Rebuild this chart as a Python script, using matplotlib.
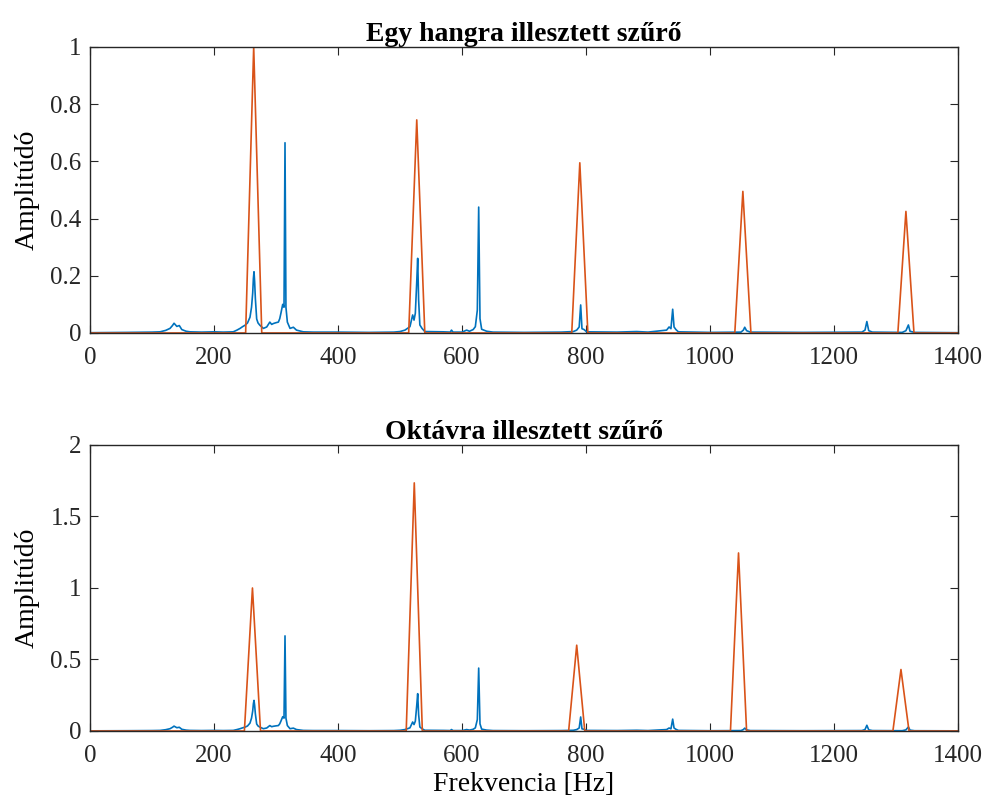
import matplotlib
matplotlib.use("Agg")
import matplotlib.pyplot as plt
import numpy as np
from matplotlib.ticker import FuncFormatter

# measured spectrum (Hz, amplitude), same in both panels
spec_freq = [0, 60, 100, 113, 122, 129, 133, 135.5, 138, 140, 144, 148, 155, 161, 180, 200, 215, 231,
             237, 242, 246, 250, 254, 258, 260.5, 262.4, 263.5, 264.5, 265.5, 266.7, 268.8, 271, 274,
             279.6, 285, 290, 293, 295.7, 300, 303.8, 306, 308, 310.8, 312.9, 314.5, 316, 318.3, 322.6,
             328, 333, 344, 360, 400, 450, 490, 500, 508, 516, 520.4, 522.6, 524.7, 526.9, 528.5, 530,
             532, 535.5, 540, 570, 581, 583, 585.5, 600, 607.5, 612, 618, 621.5, 624.7, 626.9, 629,
             631.7, 639.8, 650, 700, 760, 779.6, 785, 789, 791.4, 793.5, 796.8, 801, 850, 881.7, 900,
             930, 934, 937, 939.8, 942, 945, 949, 1000, 1050, 1053.8, 1056, 1059, 1065, 1150, 1245,
             1250, 1253, 1256, 1262, 1310, 1316, 1320, 1322.6, 1330, 1400]
spec_amp = [0.001, 0.002, 0.003, 0.004, 0.009, 0.016, 0.026, 0.034, 0.028, 0.023, 0.026, 0.012, 0.006, 0.004,
            0.003, 0.004, 0.003, 0.004, 0.010, 0.016, 0.022, 0.027, 0.035, 0.055, 0.090, 0.140, 0.190,
            0.214, 0.180, 0.120, 0.049, 0.035, 0.027, 0.016, 0.021, 0.038, 0.030, 0.033, 0.036, 0.038,
            0.050, 0.070, 0.100, 0.090, 0.665, 0.090, 0.038, 0.016, 0.020, 0.010, 0.004, 0.003, 0.003,
            0.002, 0.003, 0.005, 0.010, 0.022, 0.063, 0.045, 0.069, 0.174, 0.261, 0.116, 0.028, 0.016,
            0.005, 0.004, 0.003, 0.010, 0.003, 0.003, 0.010, 0.006, 0.012, 0.022, 0.080, 0.440, 0.050,
            0.013, 0.006, 0.003, 0.002, 0.003, 0.005, 0.010, 0.021, 0.098, 0.015, 0.012, 0.004, 0.003,
            0.005, 0.003, 0.010, 0.021, 0.015, 0.083, 0.021, 0.012, 0.004, 0.002, 0.003, 0.010, 0.020,
            0.008, 0.003, 0.002, 0.003, 0.010, 0.040, 0.008, 0.003, 0.002, 0.008, 0.028, 0.006, 0.002,
            0.001]

# triangular filters
top_centers = [264, 527, 790, 1053, 1316]
top_heights = [1.0, 0.745, 0.595, 0.495, 0.425]
bot_centers = [262, 523, 785, 1046, 1308]
bot_heights = [1.0, 1.735, 0.6, 1.245, 0.43]
half_width = 13

titles = ["Egy hangra illesztett szűrő", "Oktávra illesztett szűrő"]
y_limits = [1, 2]
y_ticks = [np.arange(0, 1.01, 0.2), np.arange(0, 2.01, 0.5)]
x_ticks = np.arange(0, 1401, 200)

BLUE = "#0072BD"
ORANGE = "#D95319"


def filter_line(centers, heights):
    xs = [0]
    ys = [0]
    for c, h in zip(centers, heights):
        xs += [c - half_width, c, c + half_width]
        ys += [0, h, 0]
    xs.append(1400)
    ys.append(0)
    return xs, ys


plt.rcParams.update(
    {
        "font.family": ["Liberation Serif", "DejaVu Serif"],
        "font.size": 18,
        "axes.edgecolor": "#262626",
        "axes.linewidth": 1.0,
        "xtick.direction": "in",
        "ytick.direction": "in",
        "xtick.top": True,
        "ytick.right": True,
        "xtick.major.size": 6,
        "ytick.major.size": 6,
        "xtick.major.width": 0.8,
        "ytick.major.width": 0.8,
        "xtick.color": "#262626",
        "ytick.color": "#262626",
    }
)

fig = plt.figure(figsize=(9.86, 8.08), dpi=100)
ax_top = fig.add_axes([0.0913, 0.5879, 0.8803, 0.354])
ax_bot = fig.add_axes([0.0913, 0.0953, 0.8803, 0.354])

fmt = FuncFormatter(lambda v, _: f"{v:g}")

for ax, title, ylim, yt, (centers, heights) in zip(
    [ax_top, ax_bot], titles, y_limits, y_ticks,
    [(top_centers, top_heights), (bot_centers, bot_heights)],
):
    ax.plot(spec_freq, spec_amp, color=BLUE, lw=1.2)
    fx, fy = filter_line(centers, heights)
    ax.plot(fx, fy, color=ORANGE, lw=1.2)
    ax.set_xlim(0, 1400)
    ax.set_ylim(0, ylim)
    ax.set_xticks(x_ticks)
    ax.set_yticks(yt)
    ax.yaxis.set_major_formatter(fmt)
    ax.tick_params(axis="x", labelsize=18, pad=10)
    ax.tick_params(axis="y", labelsize=18, pad=6)
    ax.set_title(title, fontsize=20, fontweight="bold", pad=4)
    ax.set_ylabel("Amplitúdó", fontsize=20, labelpad=8)

ax_bot.set_xlabel("Frekvencia [Hz]", fontsize=20, labelpad=4)

fig.savefig("out.png", dpi=100)
